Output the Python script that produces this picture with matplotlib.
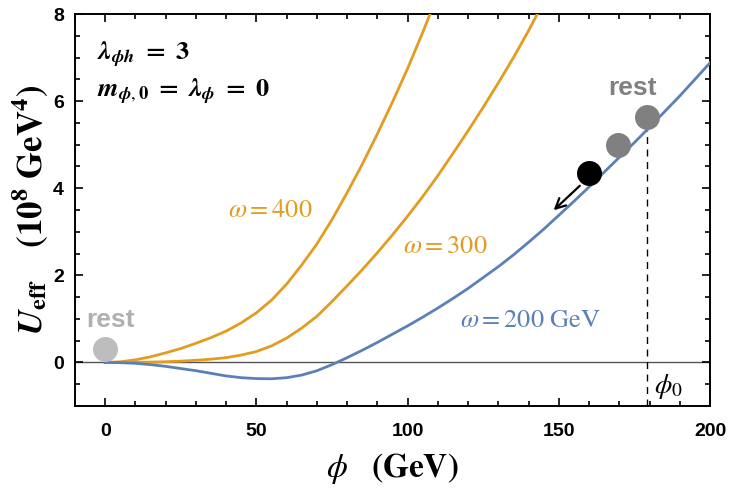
import matplotlib.pyplot as plt
import numpy as np

plt.rcParams['mathtext.fontset'] = 'stix'

# potential curves (phi in GeV, U_eff in 1e8 GeV^4)
phi_w200 = [0, 5, 10, 15, 20, 25, 30, 35, 40, 45, 50, 55, 60, 65, 70, 75, 80, 85, 90, 95,
            100, 105, 110, 115, 120, 125, 130, 135, 140, 145, 150, 155, 160, 165, 170, 175,
            180, 185, 190, 195, 200]
U_w200 = [0, -0.005, -0.02, -0.05, -0.09, -0.14, -0.19, -0.25, -0.31, -0.35, -0.37, -0.375,
          -0.35, -0.29, -0.19, -0.05, 0.11, 0.28, 0.46, 0.65, 0.84, 1.04, 1.25, 1.47, 1.7,
          1.95, 2.2, 2.47, 2.76, 3.06, 3.38, 3.7, 4.03, 4.37, 4.71, 5.05, 5.4, 5.76, 6.12,
          6.5, 6.88]

phi_w300 = [0, 5, 10, 15, 20, 25, 30, 35, 40, 45, 50, 55, 60, 65, 70, 75, 80, 85, 90, 95,
            100, 105, 110, 115, 120, 125, 130, 135, 140, 145]
U_w300 = [0, 0.001, 0.004, 0.008, 0.016, 0.03, 0.05, 0.075, 0.11, 0.17, 0.25, 0.38, 0.56,
          0.79, 1.06, 1.4, 1.76, 2.13, 2.52, 2.93, 3.36, 3.81, 4.29, 4.8, 5.32, 5.86, 6.42,
          7.0, 7.62, 8.28]

phi_w400 = [0, 5, 10, 15, 20, 25, 30, 35, 40, 45, 50, 55, 60, 65, 70, 75, 80, 85, 90, 95,
            100, 105, 110]
U_w400 = [0, 0.015, 0.06, 0.13, 0.22, 0.32, 0.44, 0.57, 0.72, 0.91, 1.14, 1.43, 1.8, 2.24,
          2.72, 3.28, 3.9, 4.55, 5.25, 5.98, 6.75, 7.58, 8.45]

# balls
ball_phi = [0, 169.4, 179, 160]
ball_U = [0.32, 5.0, 5.63, 4.35]
ball_col = ['#bdbdbd', '#808080', '#808080', '#000000']
phi0 = 179
U_phi0 = 5.34

orange = '#E39C22'
blue = '#5B80B8'

fig = plt.figure(figsize=(7.3, 5.0), dpi=100)
ax = fig.add_axes([0.1027, 0.188, 0.87, 0.784])

ax.axhline(0, color='#555555', lw=1.0, zorder=1)
ax.plot(phi_w400, U_w400, color=orange, lw=2.0, zorder=3)
ax.plot(phi_w300, U_w300, color=orange, lw=2.0, zorder=3)
ax.plot(phi_w200, U_w200, color=blue, lw=2.0, zorder=3)

ax.plot([phi0, phi0], [-1, U_phi0], color='black', lw=1.0, ls=(0, (5, 4)), zorder=2)

for p, u, c in zip(ball_phi, ball_U, ball_col):
    ax.plot(p, u, 'o', ms=18, color=c, mec='none', zorder=4)

ax.annotate('', xy=(147.6, 3.45), xytext=(157.6, 4.1),
            arrowprops=dict(arrowstyle='->', color='black', lw=1.6, mutation_scale=18), zorder=5)

ax.text(174.3, 6.3, 'rest', color='#808080', fontsize=19, fontweight='bold',
        ha='center', va='center', family='Liberation Sans')
ax.text(1.6, 0.98, 'rest', color='#b0b0b0', fontsize=19, fontweight='bold',
        ha='center', va='center', family='Liberation Sans')
ax.text(181.3, -0.55, r'$\phi_0$', fontsize=20, ha='left', va='center')

ax.text(54.5, 3.5, r'$\omega = 400$', color=orange, fontsize=19, ha='center', va='center')
ax.text(112.5, 2.68, r'$\omega = 300$', color=orange, fontsize=19, ha='center', va='center')
ax.text(140.6, 0.98, r'$\omega = 200\ \mathrm{GeV}$', color=blue, fontsize=19,
        ha='center', va='center')

ax.text(-2.6, 7.05, r'$\mathbfit{\lambda}_{\mathbfit{\phi h}}\ \mathbf{=\ 3}$', fontsize=19,
        va='center')
ax.text(-2.6, 6.2, r'$\mathbfit{m}_{\mathbfit{\phi},\mathbf{0}}\ \mathbf{=}\ '
        r'\mathbfit{\lambda}_{\mathbfit{\phi}}\ \mathbf{=\ 0}$', fontsize=19, va='center')

ax.set_xlim(-10, 200)
ax.set_ylim(-1, 8)
ax.set_xticks([0, 50, 100, 150, 200])
ax.set_xticks(np.arange(-10, 201, 10), minor=True)
ax.set_yticks([0, 2, 4, 6, 8])
ax.set_yticks(np.arange(-1, 8.01, 0.5), minor=True)
ax.tick_params(which='both', direction='in', top=True, right=True, width=1.2)
ax.tick_params(which='major', length=6, labelsize=14)
ax.tick_params(axis='x', which='major', pad=12)
ax.tick_params(axis='y', which='major', pad=8)
ax.tick_params(which='minor', length=3.5)
for lab in ax.get_xticklabels() + ax.get_yticklabels():
    lab.set_fontweight('bold')
    lab.set_family('Liberation Sans')
for s in ax.spines.values():
    s.set_linewidth(1.4)

ax.set_xlabel(r'$\phi\ \ \ \mathbf{(GeV)}$', fontsize=24, labelpad=8)
ax.set_ylabel(r'$\mathbfit{U}_{\mathbf{eff}}\quad\ \mathbf{(10^8\ GeV^4)}$', fontsize=25,
              labelpad=2)

plt.savefig('out.png', dpi=100)
